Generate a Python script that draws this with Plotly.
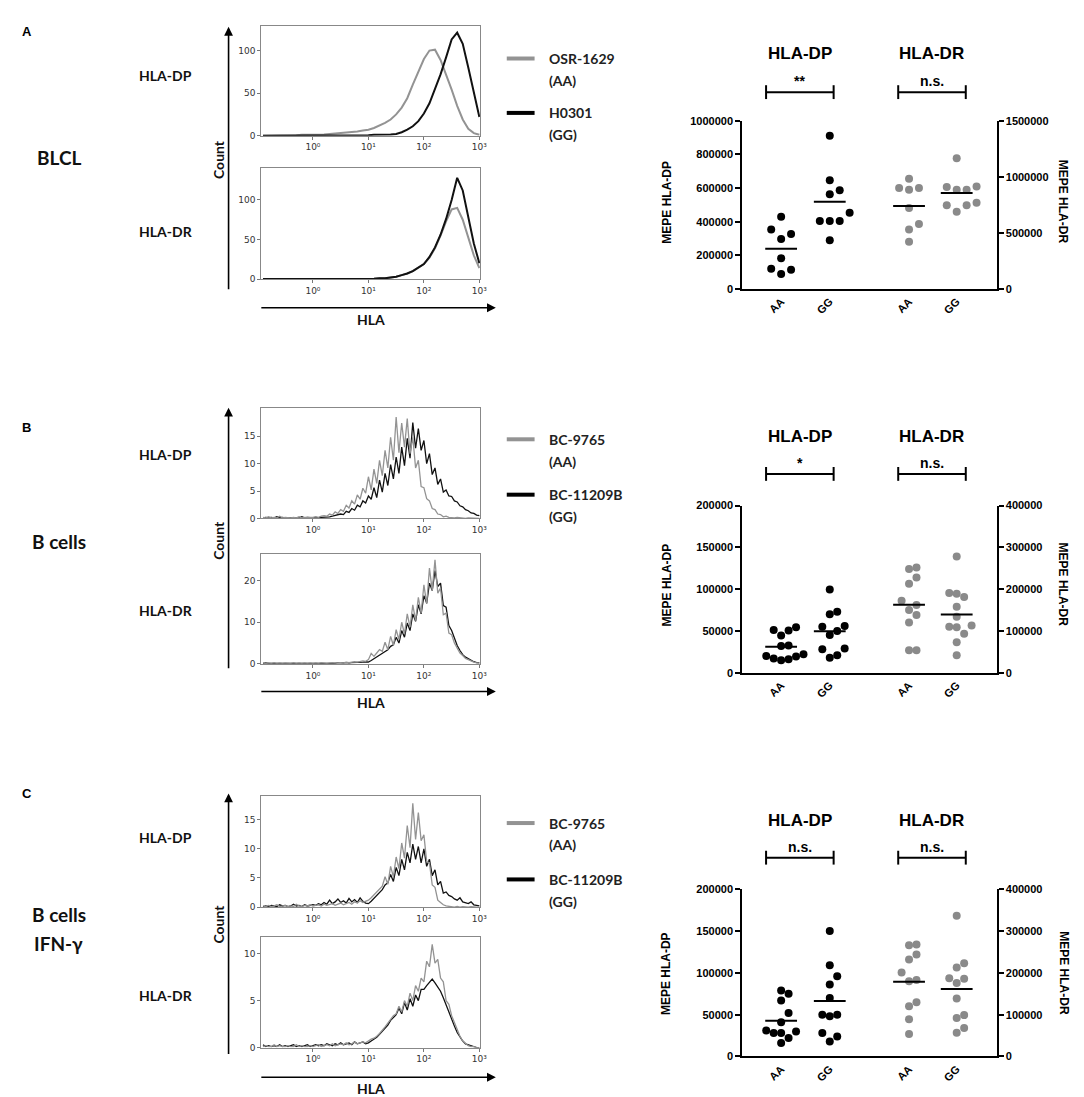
import numpy as np
import plotly.graph_objects as go

W, H = 1084, 1097

# ---------------- data: flow-cytometry histograms (log10 HLA grid) ----------------
LOG_GRID_A = np.round(np.arange(-0.9, 3.0001, 0.1), 2)
LOG_GRID_BC = np.round(np.arange(-0.9, 3.0001, 0.05), 2)
HIST_TICKVALS = [1, 10, 100, 1000]
HIST_TICKTEXT = ['10⁰', '10¹', '10²', '10³']

A_DP_GRAY = [0, 0, 0, 0, 0.5, 0.5, 0.5, 1, 1,
             1, 1.5, 1.5, 2, 2.5, 3, 4, 4.5, 5, 6, 7, 9, 12, 15, 19, 25, 33, 44, 60, 76,
             90, 100, 101, 89, 72, 54, 35, 19, 8, 3, 1]
A_DP_BLACK = [0] * 18 + [0.5, 0.5, 1, 1, 1, 1.5, 2, 4, 7, 11, 17, 26, 38, 54, 72, 92,
                         113, 121, 108, 80, 52, 22]
A_DR_GRAY = [0] * 20 + [0.5, 1, 1, 2, 3, 5, 7, 10, 14, 19, 27, 39, 55, 73, 88, 90, 75, 52, 30, 14]
A_DR_BLACK = [0] * 20 + [0.5, 1, 1, 2, 3, 5, 7, 10, 14, 19, 28, 40, 56, 76, 100, 128, 112, 78, 45, 20]

B_DP_GRAY = [0.2, 0.1, 0.3, 0.1, 0.2, 0.1, 0.4, 0.1, 0.2, 0.1, 0.1, 0.2, 0.1, 0.3, 0.1, 0.2, 0.2, 0.1,
             0.2, 0.3, 0.2, 0.4, 0.5, 0.4, 0.8, 0.6, 1.2, 0.9, 1.6, 1.3, 2.4, 1.9, 3.2, 2.6, 4.3, 3.5,
             5.5, 4.6, 7.6, 5.2, 9.0, 6.4, 10.6, 7.8, 12.4, 9.2, 14.8, 10.6, 18.5, 12.0, 17.4, 13.0,
             18.2, 11.8, 14.8, 9.2, 10.6, 5.8, 5.6, 3.6, 3.2, 1.8, 1.6, 0.8, 0.7, 0.3, 0.4,
             0.2, 0.1, 0.1, 0.2, 0.1, 0.1, 0.0, 0.1, 0.1, 0.0, 0.1, 0.0]
B_DP_BLACK = [0.1, 0.2, 0.1, 0.2, 0.1, 0.3, 0.1, 0.2, 0.1, 0.1, 0.2, 0.1, 0.2, 0.1, 0.3, 0.1, 0.2, 0.1,
              0.1, 0.2, 0.1, 0.2, 0.2, 0.3, 0.3, 0.4, 0.5, 0.6,
              0.8, 0.7, 1.3, 1.1, 1.8, 1.5, 2.4, 2.1, 3.2, 2.8,
              4.1, 3.5, 5.6, 3.8, 7.0, 4.8, 8.2, 6.0, 9.8, 7.2,
              11.2, 8.2, 13.0, 9.6, 14.6, 11.0, 17.5, 12.8, 16.4, 12.4,
              14.2, 10.0, 11.8, 8.0, 9.2, 6.2, 7.2, 4.8, 5.2, 4.1,
              4.0, 3.2, 3.0, 2.3, 2.1, 1.6, 1.4, 1.0, 0.9, 0.6, 0.5]
B_DR_GRAY = [0.2, 0.1, 0.2, 0.1, 0.3, 0.1, 0.2, 0.1, 0.2, 0.1, 0.1, 0.3, 0.1, 0.2, 0.1, 0.2, 0.1, 0.2,
             0.1, 0.2, 0.1, 0.3, 0.2, 0.1, 0.2, 0.3, 0.2, 0.3,
             0.3, 0.2, 0.4, 0.3, 0.4, 0.5, 0.4, 0.6, 0.7, 0.6,
             1.0, 2.5, 1.8, 2.6, 3.4, 3.0, 5.2, 3.4, 6.6, 4.4,
             8.2, 5.8, 10.0, 7.2, 12.0, 8.8, 14.2, 10.4, 16.0, 12.2,
             19.0, 14.4, 23.0, 17.6, 25.0, 17.0, 18.2, 11.8, 12.2, 7.4,
             7.0, 5.0, 3.8, 2.6, 2.0, 1.3, 1.0, 0.6, 0.4, 0.2, 0.1]
B_DR_BLACK = [0.1, 0.2, 0.1, 0.1, 0.2, 0.1, 0.2, 0.1, 0.1, 0.2, 0.1, 0.2, 0.1, 0.1, 0.2, 0.1, 0.2, 0.1,
              0.1, 0.1, 0.2, 0.1, 0.2, 0.1, 0.2, 0.2, 0.1, 0.3,
              0.2, 0.2, 0.3, 0.2, 0.3, 0.3, 0.4, 0.3, 0.4, 0.5,
              0.4, 0.8, 1.2, 1.6, 2.0, 2.4, 3.0, 3.4, 4.2, 4.6,
              6.4, 5.0, 8.0, 6.4, 9.8, 8.0, 12.0, 10.2, 14.2, 12.0,
              16.4, 14.6, 19.4, 17.6, 22.4, 18.6, 19.4, 14.0, 13.6, 9.2,
              8.0, 6.2, 4.4, 3.2, 2.2, 1.6, 1.2, 0.8, 0.5, 0.3, 0.2]

C_DP_GRAY = [0.2, 0.1, 0.3, 0.1, 0.2, 0.4, 0.1, 0.2, 0.3, 0.1, 0.2, 0.1, 0.5, 0.2, 0.1, 0.3, 0.2, 0.4,
             0.2, 0.3, 0.4, 0.2, 0.5, 0.3, 0.4, 0.6, 0.3, 0.5,
             0.7, 0.4, 0.6, 0.8, 0.5, 0.9, 0.7, 1.1, 0.8, 1.0,
             1.2, 1.6, 2.1, 2.6, 3.2, 3.6, 5.2, 3.9, 7.0, 5.2,
             8.6, 6.6, 11.0, 8.4, 14.0, 10.2, 17.8, 11.6, 16.2, 11.4,
             12.4, 7.8, 7.6, 3.8, 3.4, 1.2, 0.8, 0.4, 0.2, 0.1,
             0.1, 0.0, 0.1, 0.0, 0.1, 0.0, 0.0, 0.1, 0.0, 0.0, 0.0]
C_DP_BLACK = [0.1, 0.2, 0.1, 0.3, 0.2, 0.1, 0.4, 0.2, 0.3, 0.1, 0.2, 0.5, 0.2, 0.3, 0.1, 0.4, 0.2, 0.3,
              0.4, 0.3, 0.6, 0.4, 0.8, 0.5, 1.2, 0.6, 0.9, 1.4,
              0.8, 1.1, 0.7, 1.5, 0.9, 1.3, 0.8, 1.6, 1.0, 0.7,
              0.6, 1.0, 1.5, 2.0, 2.6, 3.0, 3.8, 4.2, 5.6, 4.4,
              6.8, 5.4, 8.2, 6.4, 9.4, 7.6, 10.8, 8.2, 10.4, 7.6,
              10.0, 7.0, 8.2, 5.4, 6.4, 3.8, 4.4, 2.4, 2.6, 2.0,
              1.8, 1.4, 1.2, 1.6, 0.9, 0.7, 0.6, 0.9, 0.4, 0.3, 0.2]
C_DR_GRAY = [0.1, 0.2, 0.1, 0.1, 0.3, 0.1, 0.2, 0.1, 0.1, 0.2, 0.1, 0.1, 0.3, 0.1, 0.2, 0.1, 0.1, 0.2,
             0.1, 0.2, 0.3, 0.1, 0.2, 0.3, 0.2, 0.4, 0.2, 0.3,
             0.4, 0.3, 0.5, 0.3, 0.4, 0.6, 0.4, 0.5, 0.6, 0.5,
             0.7, 0.9, 1.0, 1.2, 1.5, 1.8, 2.2, 2.6, 3.0, 3.4,
             3.6, 4.4, 3.8, 5.0, 4.4, 5.8, 5.0, 6.6, 6.0, 7.4,
             7.0, 9.2, 8.6, 11.0, 9.0, 9.4, 7.4, 7.0, 5.0, 4.6,
             3.4, 2.6, 1.9, 1.2, 0.7, 0.4, 0.2, 0.1, 0.1, 0.0, 0.0]
C_DR_BLACK = [0.3, 0.1, 0.2, 0.1, 0.2, 0.1, 0.3, 0.1, 0.2, 0.1, 0.2, 0.3, 0.1, 0.2, 0.1, 0.2, 0.3, 0.1,
              0.2, 0.3, 0.2, 0.3, 0.2, 0.4, 0.3, 0.2, 0.4, 0.3,
              0.5, 0.3, 0.4, 0.5, 0.3, 0.6, 0.4, 0.5, 0.6, 0.4,
              0.5, 0.7, 0.9, 1.1, 1.4, 1.7, 2.0, 2.4, 2.9, 3.2,
              3.5, 4.2, 3.6, 4.8, 4.0, 5.2, 4.4, 5.6, 5.0, 6.2,
              6.2, 6.6, 7.0, 7.3, 6.9, 6.4, 6.0, 5.3, 4.5, 3.7,
              3.0, 2.3, 1.6, 1.1, 0.7, 0.4, 0.3, 0.2, 0.1, 0.0, 0.0]

# ---------------- data: MEPE dot plots ----------------
GROUP_LABELS = ['AA', 'GG', 'AA', 'GG']

A_DP_AA = [429000, 354000, 327000, 297000, 183000, 120000, 114000, 89000]
A_DP_GG = [911000, 646000, 587000, 563000, 453000, 404000, 404000, 404000, 290000]
A_DR_AA = [983000, 900000, 886000, 900000, 723000, 579000, 531000, 422000]
A_DR_GG = [1167000, 915000, 886000, 886000, 909000, 747000, 768000, 747000, 688000]

B_DP_AA = [54300, 51200, 50400, 44500, 32500, 32000, 20000, 19500, 17000, 15000, 16000, 22000]
B_DP_GG = [99600, 73000, 70000, 56000, 55000, 50000, 45000, 28000, 29000, 18000, 21000]
B_DR_AA = [252000, 248000, 228000, 213000, 172000, 162000, 150000, 138000, 120000, 54000, 54000]
B_DR_GG = [278000, 189000, 181000, 191000, 158000, 134000, 113000, 110000, 109000, 93000, 73000, 42000]

C_DP_AA = [75000, 67000, 79000, 52000, 41000, 31000, 28000, 30000, 28000, 22000, 16000]
C_DP_GG = [150000, 109000, 96000, 86000, 70000, 50000, 48000, 50000, 28000, 24000, 18000]
C_DR_AA = [268000, 266000, 244000, 232000, 201000, 183000, 180000, 130000, 120000, 89000, 54000]
C_DR_GG = [337000, 223000, 213000, 187000, 186000, 176000, 139000, 99000, 92000, 68000, 57000]

SIG_LABELS = [['**', 'n.s.'], ['*', 'n.s.'], ['n.s.', 'n.s.']]
LEGENDS = [['OSR-1629', 'H0301'], ['BC-9765', 'BC-11209B'], ['BC-9765', 'BC-11209B']]

# ---------------- styling / layout helpers ----------------
GRAY_H = '#939393'
GRAY_DOT = '#8a8a8a'
LBL = 'Lato'
ARIAL = 'Liberation Sans'


def X(px):
    return px / W


def Y(py):
    return 1 - py / H


fig = go.Figure()
layout = dict(width=W, height=H, margin=dict(l=0, r=0, t=0, b=0),
              paper_bgcolor='white', plot_bgcolor='white', showlegend=False)
ann = []
shapes = []


def aname(p, i):
    return f'{p}axis' if i == 1 else f'{p}axis{i}'


def aref(p, i):
    return p if i == 1 else f'{p}{i}'


# ---------------- histograms ----------------
hist_specs = [
    (LOG_GRID_A, A_DP_GRAY, A_DP_BLACK, 129, [0, 50, 100], 12, 123, 2.0, False),
    (LOG_GRID_A, A_DR_GRAY, A_DR_BLACK, 140, [0, 50, 100], 156, 268, 2.0, False),
    (LOG_GRID_BC, B_DP_GRAY, B_DP_BLACK, 20.2, [0, 5, 10, 15], 398, 510, 1.3, True),
    (LOG_GRID_BC, B_DR_GRAY, B_DR_BLACK, 26.4, [0, 10, 20], 546, 657, 1.3, True),
    (LOG_GRID_BC, C_DP_GRAY, C_DP_BLACK, 19.0, [0, 5, 10, 15], 791, 903, 1.3, True),
    (LOG_GRID_BC, C_DR_GRAY, C_DR_BLACK, 11.8, [0, 5, 10], 933, 1045, 1.3, True),
]
HX0, HX1 = 255, 475
tick_font = dict(family='DejaVu Sans', size=9, color='#333')
for k, (grid, gray, black, ymax, yt, top, bot, lw, gray_on_top) in enumerate(hist_specs):
    i = k + 1
    xs = 10 ** np.asarray(grid, dtype=float)
    tr_gray = go.Scatter(x=xs, y=gray, mode='lines', line=dict(color=GRAY_H, width=lw),
                         xaxis=aref('x', i), yaxis=aref('y', i), hoverinfo='skip')
    tr_black = go.Scatter(x=xs, y=black, mode='lines', line=dict(color='#111', width=lw),
                          xaxis=aref('x', i), yaxis=aref('y', i), hoverinfo='skip')
    if gray_on_top:
        fig.add_trace(tr_black)
        fig.add_trace(tr_gray)
    else:
        fig.add_trace(tr_gray)
        fig.add_trace(tr_black)
    layout[aname('x', i)] = dict(type='log', range=[-0.93, 3.01], domain=[X(HX0), X(HX1)],
                                 anchor=aref('y', i), tickvals=HIST_TICKVALS,
                                 ticktext=HIST_TICKTEXT, ticks='outside', ticklen=3,
                                 tickcolor='#777', showline=True, linecolor='#888',
                                 linewidth=1, mirror=True, showgrid=False, zeroline=False,
                                 tickfont=tick_font)
    layout[aname('y', i)] = dict(range=[0, ymax], domain=[Y(bot), Y(top)],
                                 anchor=aref('x', i), tickvals=yt, ticks='outside',
                                 ticklen=3, tickcolor='#777', showline=True,
                                 linecolor='#888', linewidth=1, mirror=True,
                                 showgrid=False, zeroline=False, tickfont=tick_font)

# ---------------- dot plots ----------------
POS = [0, 1, 2.63, 3.61]
XR = [-0.8, 4.43]
SX0, SX1 = 739, 995
x_units_per_px = (XR[1] - XR[0]) / (SX1 - SX0)


def swarm(vals, px_per_unit, thresh_px=10.0):
    order = sorted(range(len(vals)), key=lambda j: vals[j])
    placed = []
    slots = [0] * len(vals)
    for j in order:
        chosen = 0
        for s in (0, 1, -1, 2, -2, 3, -3):
            if all(ps != s or abs(pv - vals[j]) * px_per_unit >= thresh_px for ps, pv in placed):
                chosen = s
                break
        placed.append((chosen, vals[j]))
        slots[j] = chosen
    return slots


sc_specs = [
    ([A_DP_AA, A_DP_GG], [A_DR_AA, A_DR_GG], 1e6, 2e5, 1.5e6, 5e5, 108, 278, 10.0),
    ([B_DP_AA, B_DP_GG], [B_DR_AA, B_DR_GG], 2e5, 5e4, 4e5, 1e5, 497, 666, 7.5),
    ([C_DP_AA, C_DP_GG], [C_DR_AA, C_DR_GG], 2e5, 5e4, 4e5, 1e5, 885, 1054, 7.5),
]
sc_font = dict(family=ARIAL, size=11, color='black', weight='bold')
for k, (dp, dr, lmax, ldt, rmax, rdt, top, bot, slot_px) in enumerate(sc_specs):
    xi = 7 + k
    yl = 7 + 2 * k
    yr = yl + 1
    hpx = bot - top
    groups = [(dp[0], POS[0], yl, lmax, 'black'), (dp[1], POS[1], yl, lmax, 'black'),
              (dr[0], POS[2], yr, rmax, GRAY_DOT), (dr[1], POS[3], yr, rmax, GRAY_DOT)]
    for vals, p, yid, vmax, col in groups:
        slots = swarm(vals, hpx / vmax)
        xs = [p + s * slot_px * x_units_per_px for s in slots]
        fig.add_trace(go.Scatter(x=xs, y=vals, mode='markers',
                                 marker=dict(color=col, size=8, line=dict(width=0)),
                                 xaxis=aref('x', xi), yaxis=aref('y', yid), hoverinfo='skip'))
        m = float(np.mean(vals))
        hw = 16 * x_units_per_px
        fig.add_trace(go.Scatter(x=[p - hw, p + hw], y=[m, m], mode='lines',
                                 line=dict(color='black', width=2),
                                 xaxis=aref('x', xi), yaxis=aref('y', yid), hoverinfo='skip'))
    layout[aname('x', xi)] = dict(range=XR, domain=[X(SX0), X(SX1)], anchor=aref('y', yl),
                                  tickvals=POS, ticktext=GROUP_LABELS, tickangle=-45,
                                  showline=True, linecolor='black', linewidth=2, ticks='',
                                  showgrid=False, zeroline=False, tickfont=sc_font)
    layout[aname('y', yl)] = dict(range=[0, lmax], domain=[Y(bot), Y(top)],
                                  anchor=aref('x', xi), dtick=ldt, tick0=0, tickformat='d',
                                  showline=True, linecolor='black', linewidth=2,
                                  ticks='outside', ticklen=5, tickwidth=2, tickcolor='black',
                                  showgrid=False, zeroline=False, tickfont=sc_font)
    layout[aname('y', yr)] = dict(range=[0, rmax], domain=[Y(bot), Y(top)],
                                  anchor=aref('x', xi), overlaying=aref('y', yl), side='right',
                                  dtick=rdt, tick0=0, tickformat='d',
                                  showline=True, linecolor='black', linewidth=2,
                                  ticks='outside', ticklen=5, tickwidth=2, tickcolor='black',
                                  showgrid=False, zeroline=False, tickfont=sc_font)

# ---------------- annotations & decorations ----------------
panel_y = [
    dict(letter=18, big=[(145, 'BLCL')], dp=62, dr=220, count=147, c_top=13, c_bot=277,
         hla_arrow=297, hla_txt=309, leg=(45, 100), title=40, bracket=79, mepe=190),
    dict(letter=418, big=[(533, 'B cells')], dp=445, dr=603, count=532, c_top=398, c_bot=660,
         hla_arrow=685, hla_txt=696, leg=(430, 486), title=427, bracket=465, mepe=577),
    dict(letter=788, big=[(910, 'B cells'), (940, 'IFN-γ')], dp=833, dr=992, count=920,
         c_top=788, c_bot=1050, hla_arrow=1075, hla_txt=1086, leg=(818, 875), title=815,
         bracket=853, mepe=970),
]


def text(x, y, s, size, family=LBL, weight='bold', xanchor='center', angle=0, color='#111'):
    ann.append(dict(x=X(x), y=Y(y), xref='paper', yref='paper', text=s, showarrow=False,
                    xanchor=xanchor, yanchor='middle', textangle=angle,
                    font=dict(family=family, size=size, color=color, weight=weight)))


def arrow(x0, y0, x1, y1):
    ann.append(dict(x=X(x1), y=Y(y1), xref='paper', yref='paper', text='', showarrow=True,
                    ax=x0 - x1, ay=y0 - y1, axref='pixel', ayref='pixel',
                    arrowhead=2, arrowsize=1.1, arrowwidth=1.6, arrowcolor='black'))


def line(x0, y0, x1, y1, color='black', width=2):
    shapes.append(dict(type='line', xref='paper', yref='paper', x0=X(x0), y0=Y(y0),
                       x1=X(x1), y1=Y(y1), line=dict(color=color, width=width)))


for k, P in enumerate(panel_y):
    text(12, P['letter'], 'ABC'[k], 13, family=ARIAL, xanchor='left', color='black')
    for yy, s in P['big']:
        text(51, yy, s, 19)
    text(159, P['dp'], 'HLA-DP', 14)
    text(159, P['dr'], 'HLA-DR', 14)
    # Count / HLA axes arrows
    arrow(222, P['c_bot'], 222, P['c_top'])
    text(212, P['count'], 'Count', 14, angle=-90)
    arrow(255, P['hla_arrow'], 491, P['hla_arrow'])
    text(365, P['hla_txt'], 'HLA', 14)
    # legend
    gy, by = P['leg']
    line(502, gy, 530, gy, color=GRAY_H, width=4)
    line(502, by, 530, by, color='black', width=4)
    text(542, gy, LEGENDS[k][0], 14, xanchor='left', color='#222')
    text(542, gy + 22, '(AA)', 14, xanchor='left', color='#222')
    text(542, by, LEGENDS[k][1], 14, xanchor='left', color='#222')
    text(542, by + 22, '(GG)', 14, xanchor='left', color='#222')
    # dot-plot titles and significance brackets
    for cx, ttl, sig in [(797, 'HLA-DP', SIG_LABELS[k][0]), (930, 'HLA-DR', SIG_LABELS[k][1])]:
        text(cx, P['title'], ttl, 17, family=ARIAL, color='black')
        b = P['bracket']
        line(cx - 34, b, cx + 34, b)
        line(cx - 34, b - 7, cx - 34, b + 7)
        line(cx + 34, b - 7, cx + 34, b + 7)
        text(cx, b - 11, sig, 14, family=ARIAL, color='black')
    text(663, P['mepe'], 'MEPE HLA-DP', 12, family=ARIAL, angle=-90, color='black')
    text(1062, P['mepe'], 'MEPE HLA-DR', 12, family=ARIAL, angle=90, color='black')

layout['annotations'] = ann
layout['shapes'] = shapes
fig.update_layout(**layout)
fig.write_html('out.html')
